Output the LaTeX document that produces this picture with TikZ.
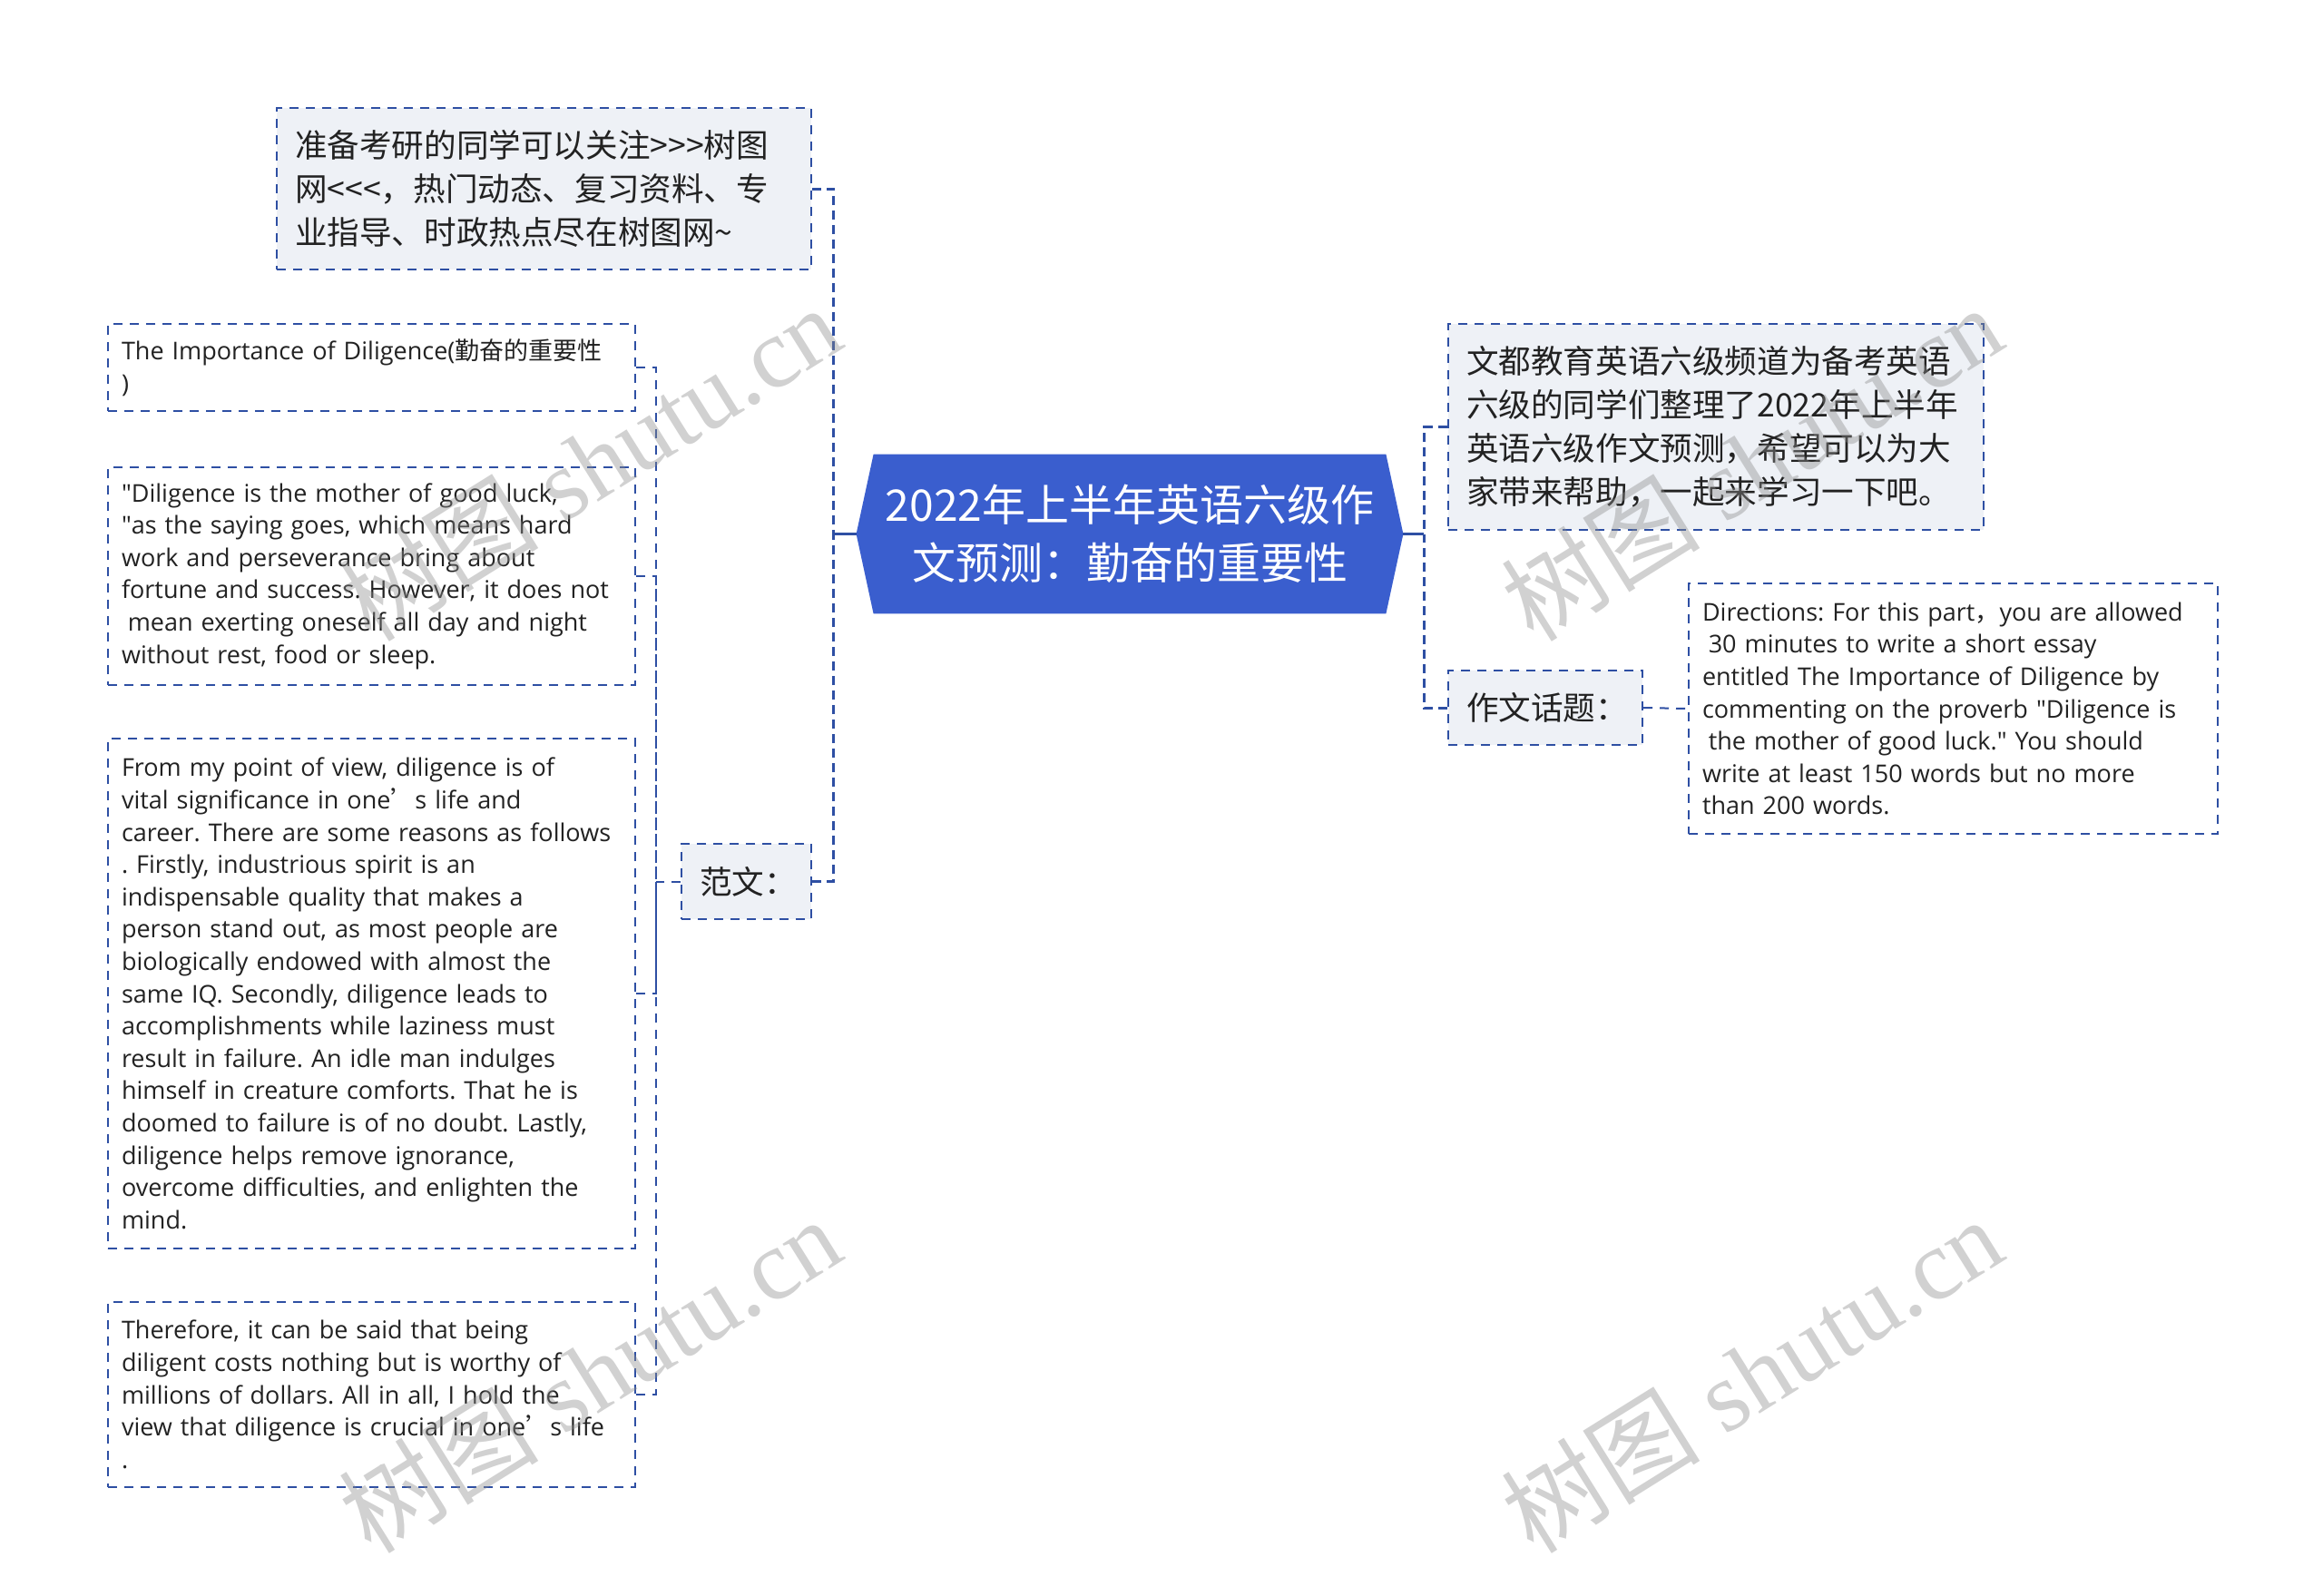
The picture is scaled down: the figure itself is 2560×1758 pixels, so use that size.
\documentclass[tikz,border=0pt]{standalone}
\usepackage{fontspec}
\setmainfont{Open Sans}
\newfontfamily\cjk{Noto Sans CJK SC}
\newfontfamily\wmserif{Liberation Serif}
\usetikzlibrary{backgrounds}
\definecolor{hubblue}{HTML}{3A5ECE}
\definecolor{linkblue}{HTML}{2E4FA3}
\definecolor{tagfill}{HTML}{EEF1F6}
\definecolor{ink}{HTML}{222222}
\frenchspacing

\begin{document}
\begin{tikzpicture}[x=0.5pt,y=-0.5pt,
    hub/.style={minimum width=301pt,minimum height=87.5pt,inner sep=0pt,align=center,
        text=white,font=\cjk\fontsize{24}{32}\selectfont},
    tag/.style={anchor=north west,draw=linkblue,line width=1pt,dash pattern=on 5pt off 4pt,
        fill=tagfill,inner xsep=10pt,inner ysep=0pt,align=left,text=ink,
        font=\cjk\fontsize{17.8}{24}\selectfont},
    leaf/.style={anchor=north west,draw=linkblue,line width=1pt,dash pattern=on 5pt off 4pt,
        fill=white,inner xsep=7.5pt,inner ysep=0pt,align=left,text=ink,
        font=\fontsize{13.5}{17.8}\selectfont},
    stem/.style={draw=linkblue,line width=1.5pt},
    trunk/.style={draw=linkblue,line width=1.5pt,dash pattern=on 5pt off 3pt},
    twig/.style={draw=linkblue,line width=1pt,dash pattern=on 5pt off 4pt},
    wmark/.style={text=black!45,opacity=0.4,rotate=32,font=\fontsize{55}{55}\selectfont}]
  \useasboundingbox (0,0) rectangle (2560,1758);

  \node[hub] (root) at (1245,588.5) {2022年上半年英语六级作\\文预测：勤奋的重要性};

  \node[tag,text width=274.5pt,minimum height=89pt] (note) at (304,118)
    {准备考研的同学可以关注>>>树图\\网<<<，热门动态、复习资料、专\\业指导、时政热点尽在树图网\textasciitilde};
  \node[tag,text width=51.5pt,minimum height=41.5pt] (fw) at (750,929) {范文：};

  \node[leaf,text width=275.5pt,minimum height=48pt] (t1) at (118,356)
    {The Importance of Diligence({\cjk 勤奋的重要性}\\)};
  \node[leaf,text width=275.5pt,minimum height=120pt] (t2) at (118,514)
    {\textquotedbl Diligence is the mother of good luck,\\
     \textquotedbl as the saying goes, which means hard\\
     work and perseverance bring about\\
     fortune and success. However, it does not\\
     \hspace*{.25em}mean exerting oneself all day and night\\
     without rest, food or sleep.};
  \node[leaf,text width=275.5pt,minimum height=281pt] (t3) at (118,813)
    {From my point of view, diligence is of\\
     vital significance in one{\cjk ’}s life and\\
     career. There are some reasons as follows\\
     . Firstly, industrious spirit is an\\
     indispensable quality that makes a\\
     person stand out, as most people are\\
     biologically endowed with almost the\\
     same IQ. Secondly, diligence leads to\\
     accomplishments while laziness must\\
     result in failure. An idle man indulges\\
     himself in creature comforts. That he is\\
     doomed to failure is of no doubt. Lastly,\\
     diligence helps remove ignorance,\\
     overcome difficulties, and enlighten the\\
     mind.};
  \node[leaf,text width=275.5pt,minimum height=102pt] (t4) at (118,1434)
    {Therefore, it can be said that being\\
     diligent costs nothing but is worthy of\\
     millions of dollars. All in all, I hold the\\
     view that diligence is crucial in one{\cjk ’}s life\\
     .};

  \node[tag,text width=275pt,minimum height=113.5pt] (intro) at (1595,356)
    {文都教育英语六级频道为备考英语\\六级的同学们整理了2022年上半年\\英语六级作文预测，希望可以为大\\家带来帮助，一起来学习一下吧。};
  \node[tag,text width=87pt,minimum height=41pt] (topic) at (1595,738) {作文话题：};
  \node[leaf,text width=276.5pt,minimum height=138pt] (dir) at (1860,642)
    {Directions: For this part{\cjk ，}you are allowed\\
     \hspace*{.25em}30 minutes to write a short essay\\
     entitled The Importance of Diligence by\\
     commenting on the proverb \textquotedbl Diligence is\\
     \hspace*{.25em}the mother of good luck.\textquotedbl\ You should\\
     write at least 150 words but no more\\
     than 200 words.};

  \begin{scope}[on background layer]
    \fill[white] (0,0) rectangle (2560,1758);
    \fill[hubblue] ([xshift=9.5pt]root.north west) -- ([xshift=-9.5pt]root.north east)
      -- (root.east) -- ([xshift=-9.5pt]root.south east)
      -- ([xshift=9.5pt]root.south west) -- (root.west) -- cycle;
  \end{scope}

  \coordinate (lhub) at ([xshift=-12.5pt]root.west);
  \coordinate (rhub) at ([xshift=11.5pt]root.east);
  \coordinate (ffork) at ([xshift=-13.5pt]fw.west);

  \draw[stem] (root.west) -- (lhub);
  \draw[trunk] (note.east) -| (lhub);
  \draw[trunk] (fw.east) -| (lhub);
  \draw[stem] (root.east) -- (rhub);
  \draw[trunk] (intro.west) -| (rhub);
  \draw[trunk] (topic.west) -| (rhub);
  \draw[twig] (topic.east) -- (dir.west);
  \draw[twig] (fw.west) -- (ffork);
  \draw[twig] (t1.east) -| (ffork);
  \draw[twig] (t2.east) -| (ffork);
  \draw[twig] (t3.east) -| (ffork);
  \draw[twig] (t4.east) -| (ffork);

  \node[wmark] (w1) at (650,510) {{\cjk 树图} {\wmserif shutu.cn}};
  \node[wmark] (w2) at (650,1515) {{\cjk 树图} {\wmserif shutu.cn}};
  \node[wmark] (w3) at (1930,510) {{\cjk 树图} {\wmserif shutu.cn}};
  \node[wmark] (w4) at (1930,1515) {{\cjk 树图} {\wmserif shutu.cn}};
\end{tikzpicture}
\end{document}
